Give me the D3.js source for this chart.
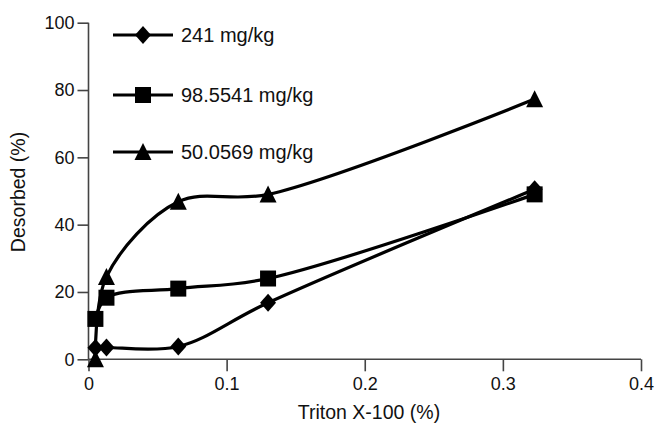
<!DOCTYPE html>
<html>
<head>
<meta charset="utf-8">
<script src="https://cdn.jsdelivr.net/npm/d3@7"></script>
<style>
  body { margin: 0; background: #fff; }
  svg text { font-family: "Liberation Sans", Arial, Helvetica, sans-serif; fill: #111; }
</style>
</head>
<body>
<script>
//////////////////////
// DATA
const xValues = [0.005, 0.013, 0.065, 0.13, 0.323];
const series241 = [3.4, 3.5, 3.8, 16.8, 50.5];
const series98 = [12, 18.3, 21, 24, 49];
const series50 = [0, 24.5, 46.8, 49, 77.3];
const seriesNames = ["241 mg/kg", "98.5541 mg/kg", "50.0569 mg/kg"];
const xTicks = [0, 0.1, 0.2, 0.3, 0.4];
const yTicks = [0, 20, 40, 60, 80, 100];
//////////////////////

const w = 655;
const h = 429;
const margin = { left: 88.5, right: 14, top: 22.7, bottom: 69.7 };

let svg = d3.select("body")
  .append("svg")
  .attr("width", w)
  .attr("height", h);

let xScale = d3.scaleLinear().domain([0, 0.4]).range([margin.left, w - margin.right]);
let yScale = d3.scaleLinear().domain([0, 100]).range([h - margin.bottom, margin.top]);

// custom marker shapes (size = half width)
const diamond = {
  draw(ctx, s) {
    ctx.moveTo(0, -s * 1.12); ctx.lineTo(s, 0); ctx.lineTo(0, s * 1.12); ctx.lineTo(-s, 0); ctx.closePath();
  }
};
const square = {
  draw(ctx, s) { ctx.rect(-s, -s, 2 * s, 2 * s); }
};
const triangle = {
  draw(ctx, s) {
    ctx.moveTo(0, -s * 1.05); ctx.lineTo(s, s * 0.95); ctx.lineTo(-s, s * 0.95); ctx.closePath();
  }
};

const allSeries = [
  { name: seriesNames[0], values: series241, shape: diamond, size: 8 },
  { name: seriesNames[1], values: series98, shape: square, size: 8 },
  { name: seriesNames[2], values: series50, shape: triangle, size: 8.5 }
];

// Axes
const axisColor = "#444";
let xAxis = svg.append("g")
  .attr("transform", `translate(0,${yScale(0)})`)
  .call(d3.axisBottom(xScale).tickValues(xTicks).tickFormat(d => d).tickSize(12).tickPadding(6));
let yAxis = svg.append("g")
  .attr("transform", `translate(${xScale(0)},0)`)
  .call(d3.axisLeft(yScale).tickValues(yTicks).tickSize(11).tickPadding(3));

[xAxis, yAxis].forEach(a => {
  a.select(".domain").attr("stroke", axisColor).attr("stroke-width", 1.6);
  a.selectAll(".tick line").attr("stroke", axisColor).attr("stroke-width", 1.6);
  a.selectAll(".tick text").attr("font-size", 18).attr("fill", "#111");
});
xAxis.select(".domain").attr("d", `M${xScale(0)},0H${xScale(0.4)}`);
yAxis.select(".domain").attr("d", `M0,${yScale(100)}V${yScale(0)}`);

// Axis titles
svg.append("text")
  .attr("x", 369)
  .attr("y", 419)
  .attr("text-anchor", "middle")
  .attr("font-size", 19.5)
  .text("Triton X-100 (%)");
svg.append("text")
  .attr("transform", "translate(25,192) rotate(-90)")
  .attr("text-anchor", "middle")
  .attr("font-size", 19.5)
  .text("Desorbed (%)");

// Lines (smoothed, little overshoot)
let line = d3.line()
  .x((d, i) => xScale(xValues[i]))
  .y(d => yScale(d))
  .curve(d3.curveCatmullRom.alpha(0.5));

allSeries.forEach(s => {
  svg.append("path")
    .datum(s.values)
    .attr("d", line)
    .attr("fill", "none")
    .attr("stroke", "#000")
    .attr("stroke-width", 3.2);
});

allSeries.forEach(s => {
  svg.selectAll(null)
    .data(s.values)
    .enter()
    .append("path")
    .attr("transform", (d, i) => `translate(${xScale(xValues[i])},${yScale(d)})`)
    .attr("d", d3.symbol().type(s.shape).size(s.size))
    .attr("fill", "#000");
});

// Legend
const legendY = [35, 95, 152];
allSeries.forEach((s, i) => {
  let g = svg.append("g").attr("transform", `translate(0,${legendY[i]})`);
  g.append("line")
    .attr("x1", 113).attr("x2", 173)
    .attr("stroke", "#000").attr("stroke-width", 3.2);
  g.append("path")
    .attr("transform", "translate(143,0)")
    .attr("d", d3.symbol().type(s.shape).size(s.size))
    .attr("fill", "#000");
  g.append("text")
    .attr("x", 181)
    .attr("y", 7)
    .attr("font-size", 20)
    .text(s.name);
});
</script>
</body>
</html>
